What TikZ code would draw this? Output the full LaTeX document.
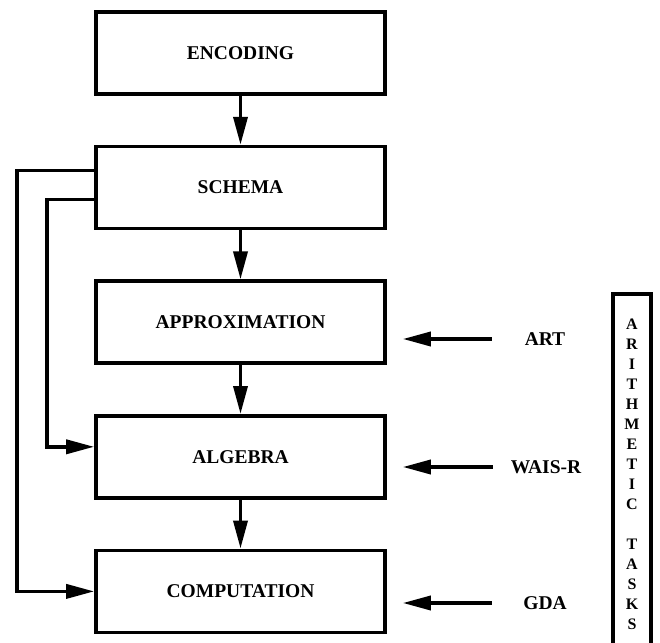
\documentclass[tikz,border=0pt]{standalone}
\usepackage{fontspec}
\setmainfont{Liberation Serif}
\usetikzlibrary{positioning, calc, arrows.meta}
\tikzset{
  stage/.style = {rectangle, draw, line width=1.8pt, minimum width=144.5pt, minimum height=41pt, inner sep=0pt, font=\fontsize{9.75}{11}\selectfont\bfseries},
  testlabel/.style = {inner sep=0pt, text width=40pt, align=center, font=\fontsize{9.75}{11}\selectfont\bfseries},
  taskbox/.style = {rectangle, draw, line width=1.8pt, minimum width=19pt, minimum height=180pt, inner sep=0pt, align=center, font=\fontsize{8}{10}\selectfont\bfseries},
  arr/.style = {line width=1.8pt, -{Triangle[length=14pt, width=7pt]}},
  conn/.style = {line width=1.8pt}
}
\begin{document}
\begin{tikzpicture}[x=0.5pt, y=-0.5pt, node distance=24.5pt]
    \useasboundingbox (0,0) rectangle (660,643);
    \node[stage] (encoding) at (240.5,53) {ENCODING};
    \node[stage, below=of encoding] (schema) {SCHEMA};
    \node[stage, below=of schema] (approx) {APPROXIMATION};
    \node[stage, below=of approx] (algebra) {ALGEBRA};
    \node[stage, below=of algebra] (comp) {COMPUTATION};

    \draw[arr] (encoding) -- (schema);
    \draw[arr] (schema) -- (approx);
    \draw[arr] (approx) -- (algebra);
    \draw[arr] (algebra) -- (comp);

    \draw[arr] ($(schema.west)+(0,-17)$) -| ($(comp.west)+(-77,0)$) -- (comp.west);
    \draw[arr] ($(schema.west)+(0,12)$) -| ($(algebra.west)+(-47,-10)$) -- ($(algebra.west)+(0,-10)$);

    \node[testlabel] (art) at (545,339) {ART};
    \node[testlabel] (wais) at (546,467) {WAIS-R};
    \node[testlabel] (gda) at (545,603) {GDA};
    \draw[arr] ([xshift=-6.5pt]art.west) -- ([xshift=8pt]approx.east |- art.west);
    \draw[arr] ([xshift=-6.5pt]wais.west) -- ([xshift=8pt]algebra.east |- wais.west);
    \draw[arr] ([xshift=-6.5pt]gda.west) -- ([xshift=8pt]comp.east |- gda.west);

    \node[taskbox] (tasks) at (632,474) {A\\R\\I\\T\\H\\M\\E\\T\\I\\C\\[\baselineskip]T\\A\\S\\K\\S};
\end{tikzpicture}
\end{document}
